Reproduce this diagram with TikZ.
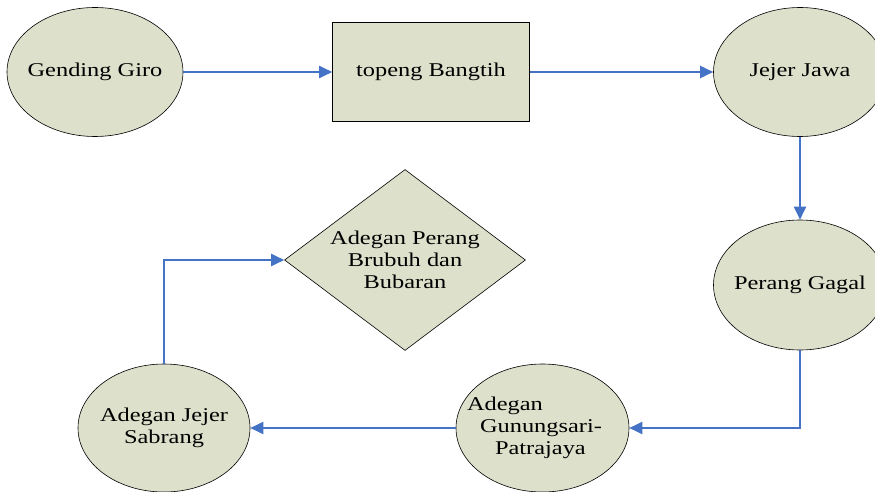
\documentclass[tikz,border=0pt]{standalone}
\usepackage{fontspec}
\setmainfont{Liberation Serif}[FakeStretch=1.25]
\usetikzlibrary{
	arrows.meta,
	positioning,
	shapes.geometric
}

\definecolor{isian}{RGB}{221,224,203}
\definecolor{panah}{RGB}{68,114,196}

\begin{document}
\begin{tikzpicture}[
			x=1pt, y=-1pt,
			font=\fontsize{19.5}{22}\selectfont,
			tahap/.style={ellipse, draw, line width=0.6pt, fill=isian, minimum width=173pt, minimum height=129pt, inner sep=-20pt, align=center},
			kotak/.style={rectangle, draw, line width=0.6pt, fill=isian, minimum width=197pt, minimum height=99pt, align=center},
			akhir/.style={diamond, draw, line width=0.6pt, fill=isian, shape aspect=1.34, minimum width=241pt, minimum height=181pt, inner sep=0pt, align=center},
			>={Triangle[length=13pt, width=12pt]},
			alur/.style={->, draw=panah, line width=2pt}
		]

		\useasboundingbox (0,0) rectangle (875,492);

		% baris atas
		\node[tahap, minimum width=176pt] (giro) at (95,72) {Gending Giro};
		\node[kotak] (topeng) at (431,72) {topeng Bangtih};
		\node[tahap] (jawa) at (800,72) {Jejer Jawa};

		% sisi kanan dan bawah
		\node[tahap, minimum height=130pt] (gagal) at (800,285) {Perang Gagal};
		\node[tahap, minimum height=128pt, align=left] (gunung) at (542.5,428)
		{Adegan\\ \hspace*{13pt}Gunungsari-\rule{16pt}{0pt}\\ \hspace*{28pt}Patrajaya};
		\node[tahap, minimum width=172pt, minimum height=128pt] (sabrang) at (164,428) {Adegan Jejer\\ Sabrang};

		% penutup
		\node[akhir] (brubuh) at (405,260) {Adegan Perang\\ Brubuh dan\\ Bubaran};

		\draw[alur] (giro) -- (topeng);
		\draw[alur] (topeng) -- (jawa);
		\draw[alur] (jawa) -- (gagal);
		\draw[alur] (gagal.south) |- (gunung.east);
		\draw[alur] (gunung.west) -- (sabrang.east);
		\draw[alur] (sabrang.north) |- (brubuh.west);
	\end{tikzpicture}
\end{document}
